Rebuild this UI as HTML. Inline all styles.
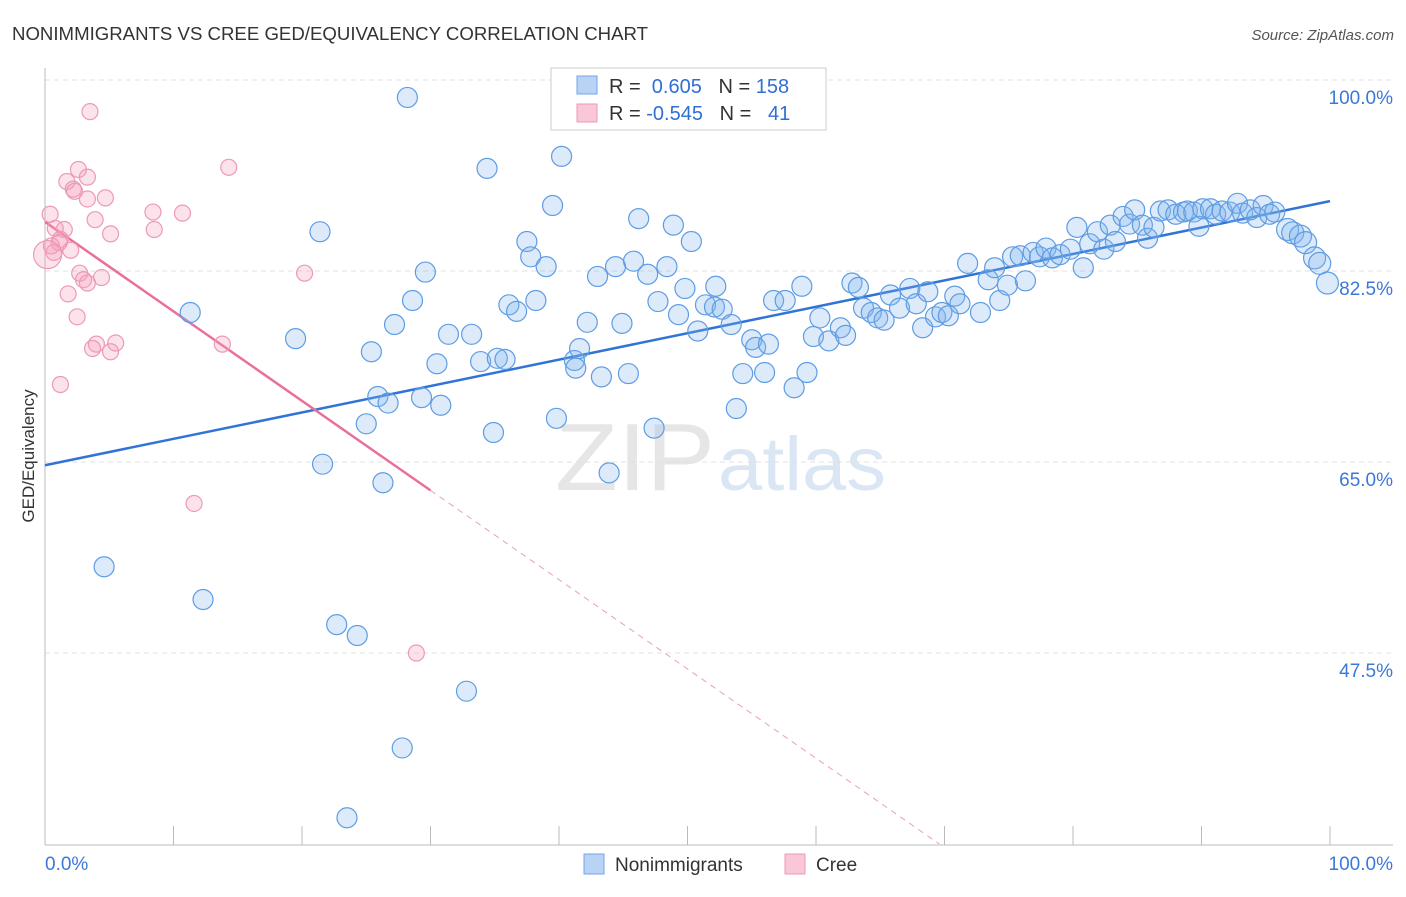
<!DOCTYPE html>
<html><head><meta charset="utf-8"><style>
body{margin:0;background:#fff;font-family:"Liberation Sans",sans-serif;}
svg text{font-family:"Liberation Sans",sans-serif;}
</style></head><body>
<svg id="chart" width="1406" height="892" xmlns="http://www.w3.org/2000/svg">
<text x="12" y="40" font-size="18" fill="#333" textLength="636" lengthAdjust="spacingAndGlyphs">NONIMMIGRANTS VS CREE GED/EQUIVALENCY CORRELATION CHART</text>
<text x="1394" y="40" font-size="15" fill="#555" font-style="italic" text-anchor="end">Source: ZipAtlas.com</text>
<g><text x="555" y="490" font-size="96" fill="#e6e6e6" font-family="Liberation Serif,serif" textLength="160" lengthAdjust="spacingAndGlyphs">ZIP</text><text x="718" y="490" font-size="76" fill="#dbe6f5" textLength="168" lengthAdjust="spacingAndGlyphs">atlas</text></g>
<g id="grid"></g><g id="axes"></g><g id="trend"></g><g id="pts"></g>
<text transform="translate(34,456) rotate(-90)" font-size="17" fill="#333" text-anchor="middle">GED/Equivalency</text>
<g>
<rect x="551" y="68" width="275" height="62" fill="#fff" stroke="#ccc"/>
<rect x="577" y="76" width="20" height="18" fill="#b9d3f5" stroke="#6fa4e6"/>
<text x="609" y="93" font-size="20" fill="#333">R = <tspan fill="#2f6fd6">&#160;0.605</tspan>&#160;&#160;&#160;N = <tspan fill="#2f6fd6">158</tspan></text>
<rect x="577" y="104" width="20" height="18" fill="#f9c7d6" stroke="#ec9ab5"/>
<text x="609" y="120" font-size="20" fill="#333">R = <tspan fill="#2f6fd6">-0.545</tspan>&#160;&#160;&#160;N = <tspan fill="#2f6fd6">&#160;&#160;41</tspan></text>
</g>
<g>
<rect x="584" y="854" width="20" height="20" fill="#b9d3f5" stroke="#6fa4e6"/>
<text x="615" y="871" font-size="19" fill="#333">Nonimmigrants</text>
<rect x="785" y="854" width="20" height="20" fill="#f9c7d6" stroke="#ec9ab5"/>
<text x="816" y="871" font-size="19" fill="#333">Cree</text>
</g>
</svg>
<script>
const yTicks=[100,82.5,65,47.5];
const yTickLabels=["100.0%","82.5%","65.0%","47.5%"];
const xTickLabels=["0.0%","100.0%"];
const blueX=[28.2,34.4,40.2,39.5,21.4,37.5,37.8,39.0,29.6,28.6,27.2,19.5,11.3,25.4,25.9,26.7,29.3,30.8,25.0,31.4,33.2,30.5,33.9,35.2,35.8,36.1,36.7,38.2,34.9,39.8,21.6,26.3,43.9,47.4,53.8,4.6,12.3,22.7,24.3,32.8,27.8,23.5,43.0,44.4,45.8,46.9,48.4,46.2,48.9,50.3,47.7,49.8,49.3,50.8,51.4,52.1,52.7,52.2,53.4,42.2,44.9,41.2,41.6,41.3,43.3,45.4,55.0,55.3,56.3,54.3,56.0,58.3,59.3,56.7,57.6,58.9,59.8,60.3,61.0,61.9,62.3,62.8,63.3,63.7,64.3,64.8,65.3,65.8,66.5,67.3,67.8,68.3,68.7,69.3,69.8,70.3,70.8,71.2,71.8,72.8,73.4,73.9,74.3,74.9,75.3,75.9,76.3,76.9,77.4,77.9,78.4,79.0,79.8,80.3,80.8,81.3,81.9,82.4,82.9,83.3,83.9,84.4,84.8,85.4,85.8,86.3,86.8,87.4,88.0,88.6,88.9,89.4,89.8,90.1,90.7,91.1,91.6,92.2,92.8,93.2,93.8,94.3,94.8,95.3,95.7,96.7,97.1,97.7,98.1,98.8,99.2,99.8];
const blueY=[98.4,91.9,93.0,88.5,86.1,85.2,83.8,82.9,82.4,79.8,77.6,76.3,78.7,75.1,71.0,70.4,70.9,70.2,68.5,76.7,76.7,74.0,74.2,74.5,74.4,79.4,78.8,79.8,67.7,69.0,64.8,63.1,64.0,68.1,69.9,55.4,52.4,50.1,49.1,44.0,38.8,32.4,82.0,82.9,83.4,82.2,82.9,87.3,86.7,85.2,79.7,80.9,78.5,77.0,79.4,79.2,79.0,81.1,77.6,77.8,77.7,74.3,75.4,73.6,72.8,73.1,76.2,75.5,75.8,73.1,73.2,71.8,73.2,79.8,79.8,81.1,76.5,78.2,76.1,77.3,76.6,81.4,81.0,79.1,78.7,78.2,78.0,80.3,79.1,80.9,79.5,77.3,80.6,78.3,78.7,78.4,80.2,79.5,83.2,78.7,81.7,82.8,79.8,81.2,83.8,83.9,81.6,84.2,83.8,84.6,83.7,84.0,84.5,86.5,82.8,85.0,86.1,84.5,86.7,85.2,87.5,86.8,88.1,86.7,85.5,86.5,88.0,88.1,87.7,87.9,88.0,87.9,86.6,88.2,88.2,87.7,88.0,87.9,88.7,87.8,88.1,87.4,88.5,87.7,87.9,86.3,86.0,85.7,85.1,83.7,83.2,81.4];
const pinkX=[3.5,14.3,2.6,3.3,1.7,2.2,2.3,4.7,3.3,0.4,8.4,10.7,3.9,0.8,1.5,8.5,5.1,1.2,1.1,0.5,2.0,0.7,20.2,2.7,3.0,3.3,4.4,1.8,2.5,4.0,3.7,5.5,5.1,13.8,1.2,11.6,28.9,0.2];
const pinkY=[97.1,92.0,91.8,91.1,90.7,90.0,89.8,89.2,89.1,87.7,87.9,87.8,87.2,86.4,86.3,86.3,85.9,85.4,85.1,84.8,84.4,84.2,82.3,82.3,81.7,81.4,81.9,80.4,78.3,75.8,75.4,75.9,75.1,75.8,72.1,61.2,47.5,84.0];
const blueTrendX=[0,100], blueTrendY=[64.7,88.9];
const pinkTrendX=[0,30,69.6], pinkTrendY=[87.0,62.4,30.0];
const NS="http://www.w3.org/2000/svg";
const X0=45,X1=1330,Y0=80,PPY=10.914;
function sx(v){return X0+(X1-X0)*v/100;}
function sy(v){return Y0+(100-v)*PPY;}
function mk(tag,attrs,parent){const e=document.createElementNS(NS,tag);for(const k in attrs)e.setAttribute(k,attrs[k]);document.getElementById(parent).appendChild(e);return e;}
yTicks.forEach((t,i)=>{
 const l=mk('line',{x1:X0,x2:1393,y1:sy(t),y2:sy(t),stroke:'#e0e0e0','stroke-dasharray':'5,4'},'grid');
 
 
 const tx=mk('text',{x:1393,y:sy(t)+24,'font-size':19,fill:'#3b78d8','text-anchor':'end'},'grid');
 tx.textContent=yTickLabels[i];
 
 
});
const ax=mk('line',{x1:X0,x2:1393,y1:845,y2:845,stroke:'#bbb'},'axes');


const ay=mk('line',{x1:X0,x2:X0,y1:68,y2:845,stroke:'#bbb'},'axes');


for(let i=0;i<=10;i++){
 const t=mk('line',{x1:sx(i*10),x2:sx(i*10),y1:826,y2:845,stroke:'#bbb'},'axes');
 
 
}
[[0,'start',45],[100,'end',1393]].forEach((a,i)=>{
 const t=mk('text',{x:a[2],y:870,'font-size':19,fill:'#3b78d8','text-anchor':a[1]},'axes');
 t.textContent=xTickLabels[i];
 
 
});
const bt=mk('line',{x1:sx(blueTrendX[0]),y1:sy(blueTrendY[0]),x2:sx(blueTrendX[1]),y2:sy(blueTrendY[1]),stroke:'#2f74d6','stroke-width':2.5},'trend');


const pt=mk('line',{x1:sx(pinkTrendX[0]),y1:sy(pinkTrendY[0]),x2:sx(pinkTrendX[1]),y2:sy(pinkTrendY[1]),stroke:'#e8709a','stroke-width':2.5},'trend');


const pd=mk('line',{x1:sx(pinkTrendX[1]),y1:sy(pinkTrendY[1]),x2:sx(pinkTrendX[2]),y2:sy(pinkTrendY[2]),stroke:'#e8a0b8','stroke-width':1,'stroke-dasharray':'6,5'},'trend');


blueX.forEach((x,i)=>{
 const c=mk('circle',{cx:sx(x),cy:sy(blueY[i]),r:(i>=145&&i<=157)?11:10,fill:'rgba(130,178,238,0.28)',stroke:'#5e9ce4','stroke-width':1.2},'pts');
 
 
});
pinkX.forEach((x,i)=>{
 const c=mk('circle',{cx:sx(x),cy:sy(pinkY[i]),r:i==pinkX.length-1?14:8,fill:'rgba(245,160,190,0.3)',stroke:'#ec9ab5','stroke-width':1.2},'pts');
 
 
});
</script>
</body></html>
